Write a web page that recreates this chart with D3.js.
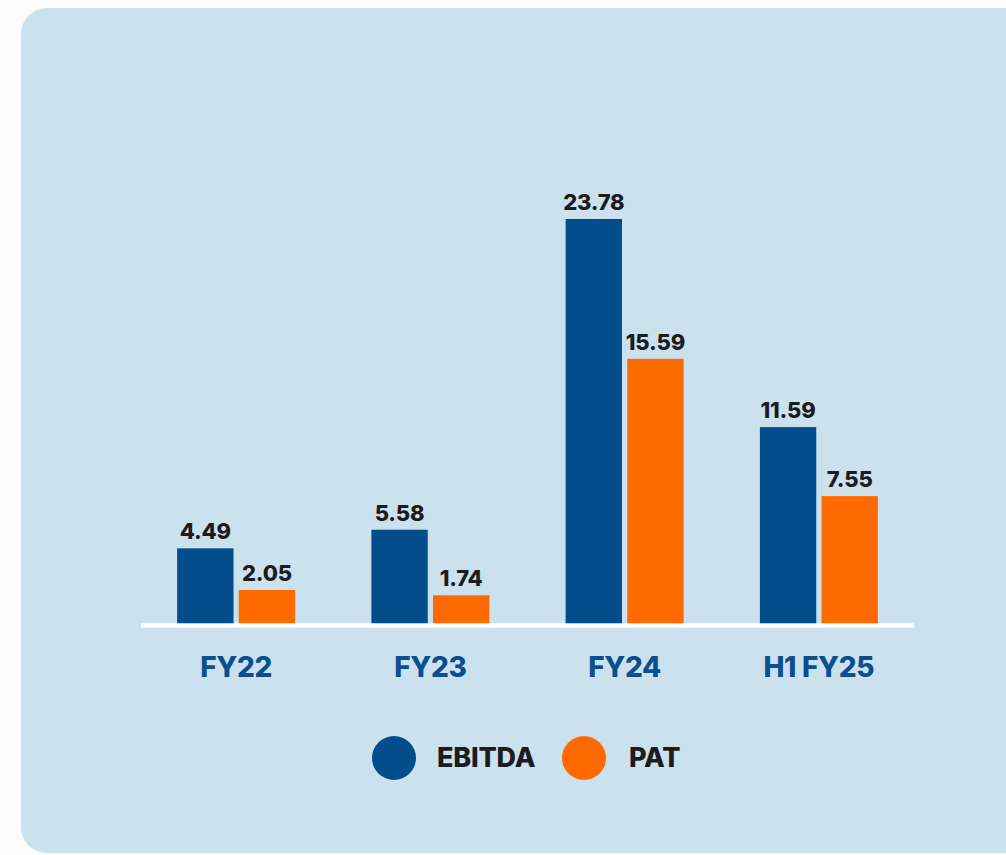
<!DOCTYPE html>
<html>
<head>
<meta charset="utf-8">
<script src="https://cdn.jsdelivr.net/npm/d3@7"></script>
<style>
  html, body { margin: 0; padding: 0; background: #fbfbfc; }
  svg { display: block; }
</style>
</head>
<body>
<div id="chart"></div>
<script>
// chart data
const categories = ['FY22', 'FY23', 'FY24', 'H1 FY25'];
const seriesNames = ['EBITDA', 'PAT'];
const ebitda = [4.49, 5.58, 23.78, 11.59];
const pat = [2.05, 1.74, 15.59, 7.55];

const colors = { EBITDA: '#034d8c', PAT: '#ff6a00' };
const font = 'Inter, "Noto Sans", sans-serif';

const W = 1006, H = 855;
const svg = d3.select('#chart').append('svg')
  .attr('width', W).attr('height', H);

// light blue card
svg.append('rect')
  .attr('x', 21).attr('y', 8)
  .attr('width', 1100).attr('height', 845)
  .attr('rx', 26)
  .attr('fill', '#cbe2ee');

const baseY = 625;
const x0 = d3.scaleBand().domain(categories).range([139, 916]);
const x1 = d3.scaleBand().domain(seriesNames).range([0, 118]).paddingInner(0.085);
const y = d3.scaleLinear().domain([0, 23.78]).range([baseY, 219]);

const rows = categories.map((c, i) => ({ cat: c, EBITDA: ebitda[i], PAT: pat[i] }));

const groups = svg.selectAll('g.grp').data(rows).enter().append('g')
  .attr('class', 'grp')
  .attr('transform', d => `translate(${x0(d.cat) + x0.bandwidth() / 2 - 59},0)`);

groups.selectAll('rect').data(d => seriesNames.map(s => ({ s, v: d[s] }))).enter()
  .append('rect')
  .attr('x', d => x1(d.s))
  .attr('y', d => y(d.v))
  .attr('width', x1.bandwidth())
  .attr('height', d => baseY - y(d.v))
  .attr('fill', d => colors[d.s]);

groups.selectAll('text.val').data(d => seriesNames.map(s => ({ s, v: d[s] }))).enter()
  .append('text')
  .attr('class', 'val')
  .attr('x', d => x1(d.s) + x1.bandwidth() / 2)
  .attr('y', d => y(d.v) - 9)
  .attr('text-anchor', 'middle')
  .attr('font-family', font)
  .attr('font-weight', 800)
  .attr('font-size', 22)
  .attr('letter-spacing', -0.2)
  .attr('fill', '#1c1c1e')
  .text(d => d.v.toFixed(2));

// baseline
svg.append('line')
  .attr('x1', 141).attr('x2', 914)
  .attr('y1', baseY + 0.5).attr('y2', baseY + 0.5)
  .attr('stroke', '#ffffff').attr('stroke-width', 4.5);

// category axis
const xAxis = d3.axisBottom(x0).tickSize(0).tickPadding(0);
const ax = svg.append('g').attr('transform', `translate(0,${baseY})`).call(xAxis);
ax.select('.domain').remove();
ax.selectAll('text')
  .attr('dy', null)
  .attr('y', 52)
  .attr('font-family', font)
  .attr('font-weight', 800)
  .attr('font-size', 28)
  .attr('letter-spacing', -0.3)
  .attr('fill', '#0b4f8e');

// legend
const legend = [
  { name: 'EBITDA', cx: 394, tx: 437 },
  { name: 'PAT', cx: 584, tx: 629 }
];
const lg = svg.append('g');
lg.selectAll('circle').data(legend).enter().append('circle')
  .attr('cx', d => d.cx).attr('cy', 758).attr('r', 22)
  .attr('fill', d => colors[d.name]);
lg.selectAll('text').data(legend).enter().append('text')
  .attr('x', d => d.tx).attr('y', 767)
  .attr('font-family', font)
  .attr('font-weight', 800)
  .attr('font-size', 27)
  .attr('letter-spacing', -0.2)
  .attr('fill', '#1c1c1e')
  .text(d => d.name);
</script>
</body>
</html>
